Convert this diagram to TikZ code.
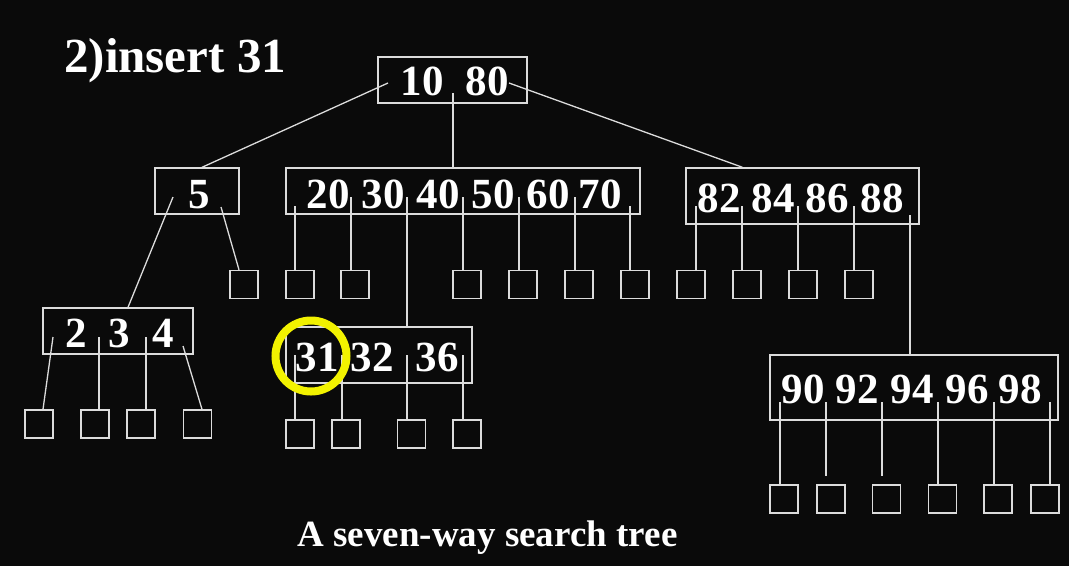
\documentclass[tikz,border=0pt]{standalone}
\usepackage{fontspec}
\setmainfont{Liberation Serif}
\usetikzlibrary{calc}
\definecolor{bg}{HTML}{0A0A0A}
\definecolor{ln}{HTML}{DCDCDC}
\definecolor{hl}{HTML}{F2F200}
\tikzset{
  keybox/.style={draw=ln, line width=1.4pt, inner sep=0pt},
  leaf/.style={draw=ln, line width=1.4pt, inner sep=0pt, minimum size=28pt},
  num/.style={text=white, anchor=base, inner sep=0pt, font=\fontsize{43}{43}\selectfont\bfseries},
  ptr/.style={draw=ln, line width=1.3pt},
}
\begin{document}
\begin{tikzpicture}[x=1pt,y=-1pt]
\fill[bg] (0,0) rectangle (1069,566);
\useasboundingbox (0,0) rectangle (1069,566);

% title and caption
\node[text=white, anchor=base west, inner sep=0pt, font=\fontsize{49}{49}\selectfont\bfseries] (title) at (64,72) {2)insert 31};
\node[text=white, anchor=base, inner sep=0pt, font=\fontsize{37}{37}\selectfont\bfseries] (caption) at (487.5,546) {A seven-way search tree};

% boxes
\node[keybox, minimum width=149pt, minimum height=46pt] (r) at (452.5,80) {};
\node[keybox, minimum width=84pt, minimum height=46pt] (b5) at (197,191) {};
\node[keybox, minimum width=354pt, minimum height=46pt] (m) at (463,191) {};
\node[keybox, minimum width=233pt, minimum height=56pt] (rb) at (802.5,196) {};
\node[keybox, minimum width=150pt, minimum height=46pt] (l2) at (118,331) {};
\node[keybox, minimum width=186pt, minimum height=56pt] (n) at (379,355) {};
\node[keybox, minimum width=288pt, minimum height=65pt] (s) at (914,387.5) {};

% keys
\node[num] (k10) at (422,95) {10};
\node[num] (k80) at (487,95) {80};
\node[num] (k5) at (199,208) {5};
\foreach \v/\x in {20/328,30/383,40/438,50/493,60/548,70/600}
  \node[num] (k\v) at (\x,208) {\v};
\foreach \v/\x in {82/719,84/773,86/827,88/882}
  \node[num] (k\v) at (\x,212) {\v};
\foreach \v/\x in {2/76,3/119,4/163}
  \node[num] (k\v) at (\x,347) {\v};
\foreach \v/\x in {31/317,32/372,36/437}
  \node[num] (k\v) at (\x,371) {\v};
\foreach \v/\x in {90/803,92/857,94/912,96/967,98/1020}
  \node[num] (k\v) at (\x,403) {\v};

% leaves
\node[leaf] (q5) at (244,284.5) {};
\foreach \i/\x in {1/300,2/355,3/467,4/523,5/579,6/635}
  \node[leaf] (qm\i) at (\x,284.5) {};
\foreach \i/\x in {1/691,2/747,3/803,4/859}
  \node[leaf] (qr\i) at (\x,284.5) {};
\foreach \i/\x in {1/39,2/95,3/141,4/197.5}
  \node[leaf] (ql\i) at (\x,424) {};
\foreach \i/\x in {1/300,2/346,3/411.5,4/467}
  \node[leaf] (qn\i) at (\x,434) {};
\foreach \i/\x in {1/784,2/831,3/886.5,4/942.5,5/998,6/1045}
  \node[leaf] (qs\i) at (\x,499) {};

% pointer start points
\coordinate (pr1) at (388,83);
\coordinate (pr2) at (453,93);
\coordinate (pr3) at (509,83);
\coordinate (p51) at (173,197);
\coordinate (p52) at (221,207);
\coordinate (pm1) at (295,206);
\coordinate (pm2) at (351,197);
\coordinate (pm3) at (407,197);
\coordinate (pm4) at (463,197);
\coordinate (pm5) at (519,197);
\coordinate (pm6) at (575,197);
\coordinate (pm7) at (630,206);
\coordinate (prb1) at (696,206);
\coordinate (prb2) at (742,206);
\coordinate (prb3) at (798,206);
\coordinate (prb4) at (854,206);
\coordinate (prb5) at (910,215);
\coordinate (pl1) at (53,337);
\coordinate (pl2) at (99,337);
\coordinate (pl3) at (146,337);
\coordinate (pl4) at (183,346);
\coordinate (pn1) at (295,355);
\coordinate (pn2) at (342,355);
\coordinate (pn3) at (407,355);
\coordinate (pn4) at (463,355);
\foreach \i/\x in {1/780,2/826,3/882,4/938,5/994,6/1050}
  \coordinate (ps\i) at (\x,402);
\coordinate (es2) at (826,476);
\coordinate (es3) at (882,476);

% connectors
\draw[ptr] (pr1) -- ([xshift=5pt]b5.north);
\draw[ptr] (pr2) -- (pr2 |- m.north);
\draw[ptr] (pr3) -- ([xshift=-60pt]rb.north);
\draw[ptr] (p51) -- ([xshift=10pt]l2.north);
\draw[ptr] (p52) -- ([xshift=-5pt]q5.north);
\draw[ptr] (pm1) -- (pm1 |- qm1.north);
\draw[ptr] (pm2) -- (pm2 |- qm2.north);
\draw[ptr] (pm3) -- (pm3 |- n.north);
\draw[ptr] (pm4) -- (pm4 |- qm3.north);
\draw[ptr] (pm5) -- (pm5 |- qm4.north);
\draw[ptr] (pm6) -- (pm6 |- qm5.north);
\draw[ptr] (pm7) -- (pm7 |- qm6.north);
\draw[ptr] (prb1) -- (prb1 |- qr1.north);
\draw[ptr] (prb2) -- (prb2 |- qr2.north);
\draw[ptr] (prb3) -- (prb3 |- qr3.north);
\draw[ptr] (prb4) -- (prb4 |- qr4.north);
\draw[ptr] (prb5) -- (prb5 |- s.north);
\draw[ptr] (pl1) -- ([xshift=4pt]ql1.north);
\draw[ptr] (pl2) -- (pl2 |- ql2.north);
\draw[ptr] (pl3) -- (pl3 |- ql3.north);
\draw[ptr] (pl4) -- ([xshift=4.5pt]ql4.north);
\draw[ptr] (pn1) -- (pn1 |- qn1.north);
\draw[ptr] (pn2) -- (pn2 |- qn2.north);
\draw[ptr] (pn3) -- (pn3 |- qn3.north);
\draw[ptr] (pn4) -- (pn4 |- qn4.north);
\draw[ptr] (ps1) -- (ps1 |- qs1.north);
\draw[ptr] (ps2) -- (es2);
\draw[ptr] (ps3) -- (es3);
\draw[ptr] (ps4) -- (ps4 |- qs4.north);
\draw[ptr] (ps5) -- (ps5 |- qs5.north);
\draw[ptr] (ps6) -- (ps6 |- qs6.north);

% highlight
\draw[hl, line width=8pt] (311,356) circle[radius=35.5pt];
\end{tikzpicture}
\end{document}
